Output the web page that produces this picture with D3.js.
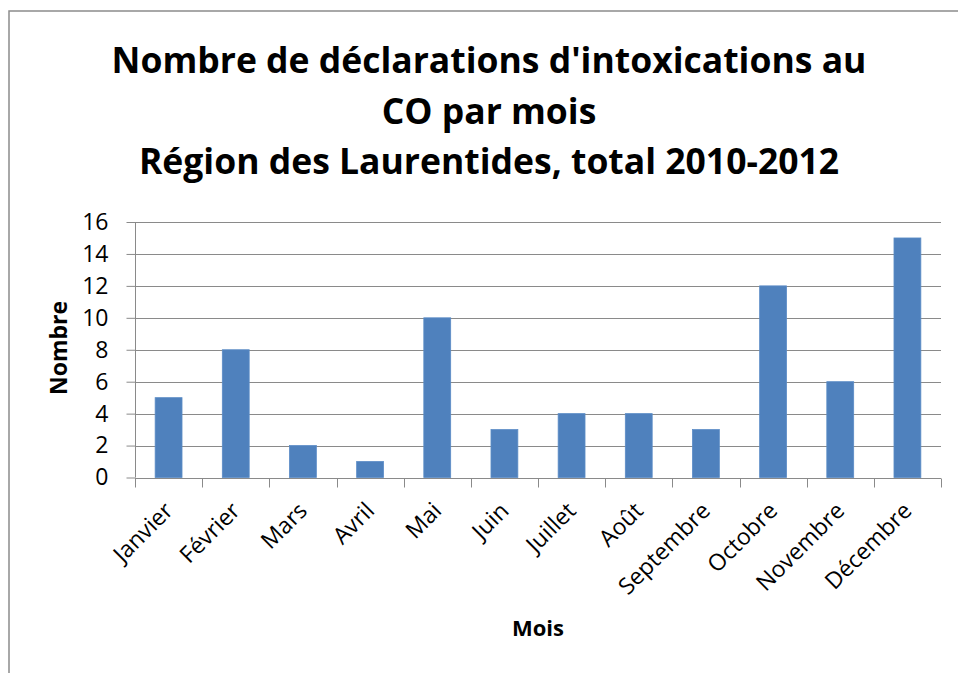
<!DOCTYPE html>
<html>
<head>
<meta charset="utf-8">
<script src="https://cdn.jsdelivr.net/npm/d3@7"></script>
<style>
  body { margin: 0; background: #fff; }
  svg { display: block; }
  text { font-family: "Open Sans", "Liberation Sans", sans-serif; fill: #000; }
</style>
</head>
<body>
<svg id="chart" width="958" height="673"></svg>
<script>
// data
const months = ["Janvier", "Février", "Mars", "Avril", "Mai", "Juin", "Juillet",
                "Août", "Septembre", "Octobre", "Novembre", "Décembre"];
const counts = [5, 8, 2, 1, 10, 3, 4, 4, 3, 12, 6, 15];
const yTicks = [0, 2, 4, 6, 8, 10, 12, 14, 16];
const titleLines = ["Nombre de déclarations d'intoxications au", "CO par mois",
                    "Région des Laurentides, total 2010-2012"];

const svg = d3.select("#chart");
const plot = { left: 135, right: 941, top: 222, bottom: 477.5 };

// outer frame (runs off the right and bottom of the picture)
svg.append("rect")
    .attr("x", 9).attr("y", 11)
    .attr("width", 1000).attr("height", 1000)
    .attr("fill", "none")
    .attr("stroke", "#8c8c8c")
    .attr("stroke-width", 1.5);

// title
svg.append("g").selectAll("text")
    .data(titleLines)
    .enter().append("text")
    .attr("x", 489)
    .attr("y", (d, i) => 73 + i * 50.5)
    .attr("text-anchor", "middle")
    .attr("font-size", 35.5)
    .attr("font-weight", "bold")
    .text(d => d);

const x = d3.scaleBand().domain(months).range([plot.left, plot.right]).padding(0);
const y = d3.scaleLinear().domain([0, 16]).range([plot.bottom, plot.top]);

// gridlines
svg.append("g").selectAll("line")
    .data(yTicks.filter(d => d > 0))
    .enter().append("line")
    .attr("x1", plot.left).attr("x2", plot.right)
    .attr("y1", d => Math.round(y(d)) + 0.5).attr("y2", d => Math.round(y(d)) + 0.5)
    .attr("stroke", "#8a8a8a")
    .attr("stroke-width", 1);

// y axis
const yAxis = svg.append("g")
    .attr("transform", `translate(${plot.left + 0.5},0)`)
    .call(d3.axisLeft(y).tickValues(yTicks).tickSize(9).tickPadding(18));
yAxis.select(".domain").attr("stroke", "#8a8a8a").attr("d", `M0,${plot.top}V${plot.bottom}`);
yAxis.selectAll(".tick line").attr("stroke", "#8a8a8a");
yAxis.selectAll(".tick text").attr("font-size", 23).attr("font-family", "Open Sans").attr("fill", "#000");

// bars
const barW = x.bandwidth() * 0.4;
svg.append("g").selectAll("rect")
    .data(counts)
    .enter().append("rect")
    .attr("x", (d, i) => x(months[i]) + (x.bandwidth() - barW) / 2)
    .attr("y", d => y(d))
    .attr("width", barW)
    .attr("height", d => plot.bottom - y(d))
    .attr("fill", "#4f81bd")
    .attr("stroke", "#5b8cc6")
    .attr("stroke-width", 0.8);

// x axis
const xAxis = svg.append("g")
    .attr("transform", `translate(0,${Math.round(plot.bottom) + 0.5})`)
    .call(d3.axisBottom(x).tickSize(0).tickPadding(0));
xAxis.select(".domain").attr("stroke", "#8a8a8a").attr("d", `M${plot.left},0H${plot.right}`);
xAxis.selectAll(".tick line").remove();
// category boundary ticks
xAxis.append("g").selectAll("line")
    .data(d3.range(months.length + 1))
    .enter().append("line")
    .attr("x1", i => Math.round(plot.left + i * x.step()) + 0.5)
    .attr("x2", i => Math.round(plot.left + i * x.step()) + 0.5)
    .attr("y1", 0).attr("y2", 9)
    .attr("stroke", "#8a8a8a");
xAxis.selectAll(".tick text")
    .attr("font-size", 23)
    .attr("font-family", "Open Sans")
    .attr("fill", "#000")
    .attr("text-anchor", "end")
    .attr("dy", "0.35em")
    .attr("transform", "translate(0,28) rotate(-45)");

// axis titles
svg.append("text")
    .attr("transform", "translate(67,348) rotate(-90)")
    .attr("text-anchor", "middle")
    .attr("font-size", 23)
    .attr("font-weight", "bold")
    .text("Nombre");

svg.append("text")
    .attr("x", 538).attr("y", 636)
    .attr("text-anchor", "middle")
    .attr("font-size", 22)
    .attr("font-weight", "bold")
    .text("Mois");
</script>
</body>
</html>
